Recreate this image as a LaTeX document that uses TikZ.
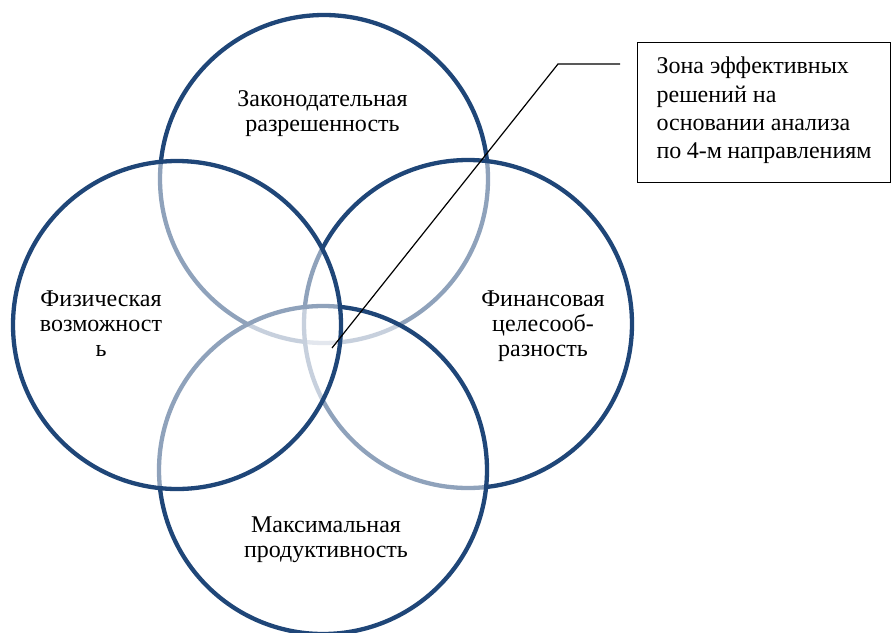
\documentclass[tikz,border=0pt]{standalone}
\usepackage{fontspec}
\setmainfont{Liberation Serif}
\definecolor{ringblue}{RGB}{31,70,120}
\tikzset{
  ring/.style={draw=ringblue, line width=4.3pt, fill=white, fill opacity=0.5},
  ringtext/.style={align=center, inner sep=0pt, font=\fontsize{24}{25}\selectfont},
  notebox/.style={draw, line width=1.2pt, inner xsep=19pt, inner ysep=14.5pt,
    font=\fontsize{24}{28.3}\selectfont}
}
\begin{document}
\begin{tikzpicture}[x=1pt,y=-1pt]
        \useasboundingbox (0,0) rectangle (893,632);
        %Круги (верх, право, низ, лево)
        \foreach \x/\y in{
        324/179, 468/324, 323/470, 177/325
        }{\draw[ring] (\x,\y) circle (164pt);}
        %Подписи
        \node[ringtext] (legal) at (322.5,113.4) {Законодательная\\разрешенность};
        \node[ringtext] (physical) at (101,323.5) {Физическая\\возможност\\ь};
        \node[ringtext] (finance) at (543,326.5) {Финансовая\\целесооб-\\разность};
        \node[ringtext] (productivity) at (326,539.7) {Максимальная\\продуктивность};
        %Выноска
        \node[notebox, anchor=north west] (zone) at (637,42)
            {\parbox[c][111pt][t]{215pt}{\raggedright Зона эффективных\\решений на\\основании анализа\\по 4-м направлениям}};
        \coordinate (zonepoint) at (332,348);
        \coordinate (knee) at (558,64);
        \coordinate (tail) at (620,64);
        \draw[line width=1.2pt] (zonepoint) -- (knee) -- (tail);
\end{tikzpicture}
\end{document}
